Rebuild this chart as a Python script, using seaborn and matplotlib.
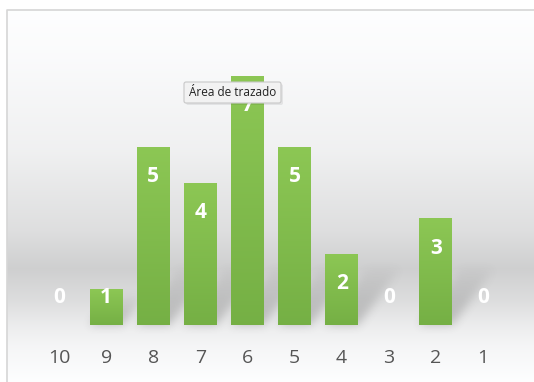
import numpy as np
import pandas as pd
import matplotlib.pyplot as plt
import seaborn as sns
from matplotlib.patches import FancyBboxPatch

# Data
categories = ['10', '9', '8', '7', '6', '5', '4', '3', '2', '1']
values = [0, 1, 5, 4, 7, 5, 2, 0, 3, 0]

df = pd.DataFrame({'cat': categories, 'val': values})

sns.set_style('white')
plt.rcParams['font.family'] = ['Open Sans', 'DejaVu Sans']

W, H = 534, 382
fig = plt.figure(figsize=(W / 100, H / 100), dpi=100)

# Background: vertical grey gradient inside the chart frame
ax_bg = fig.add_axes([0, 0, 1, 1])
ax_bg.set_xlim(0, W)
ax_bg.set_ylim(H, 0)
ax_bg.axis('off')
stops_y = [10, 60, 150, 230, 268, 300, 325, 345, 382]
stops_c = [1.00, 0.985, 0.945, 0.875, 0.815, 0.87, 0.93, 0.965, 1.0]
rows = np.arange(10, H)
shade = np.interp(rows, stops_y, stops_c)
grad = np.stack([shade * 0.995, shade * 0.997, shade], axis=-1)[:, None, :]
grad = np.clip(np.repeat(grad, 2, axis=1), 0, 1)
ax_bg.imshow(grad, extent=[7, W, H, 10], aspect='auto', interpolation='bilinear')
ax_bg.plot([7, 7, W], [H, 10, 10], color='#d6d6d6', lw=1.2)

# Bars
ax = fig.add_axes([35.5 / W, (H - 325) / H, 471 / W, 285 / H])
ax.patch.set_alpha(0)
sns.barplot(data=df, x='cat', y='val', order=categories, color='#80bd4c',
            saturation=1, width=0.7, linewidth=0, ax=ax)
ax.set_ylim(0, 8)
ax.set_xlim(-0.5, 9.5)
for s in ax.spines.values():
    s.set_visible(False)
ax.set_yticks([])
ax.set_xlabel('')
ax.set_ylabel('')
ax.tick_params(axis='x', length=0, pad=17, labelsize=14, labelcolor='#555555')

# Soft diagonal shadows behind the bars (built in pixel space from the bar patches)
fig.canvas.draw()
yy, xx = np.mgrid[0:H, 0:W] + 0.5
yy = H - yy  # display coords, origin bottom-left
mask = np.zeros((H, W))
for p in ax.patches:
    if p.get_height() <= 0:
        continue
    (x0, y0), (x1, y1) = ax.transData.transform(
        [(p.get_x(), 0), (p.get_x() + p.get_width(), p.get_height())])
    sy = min(0.85 * (y1 - y0), 58)
    sx = sy / 1.35
    t = (yy - y0) / sy
    inside = (t >= 0) & (t <= 1) & (xx >= x0 + t * sx) & (xx <= x1 + t * sx)
    mask = np.maximum(mask, np.where(inside, (1 - t) ** 0.7, 0))
k = np.ones(9) / 9
for _ in range(3):
    mask = np.apply_along_axis(lambda r: np.convolve(r, k, mode='same'), 1, mask)
    mask = np.apply_along_axis(lambda c: np.convolve(c, k, mode='same'), 0, mask)
shadow = np.zeros((H, W, 4))
shadow[..., :3] = 0.25
shadow[..., 3] = mask * 0.28
ax_bg.imshow(shadow, extent=[0, W, H, 0], aspect='auto', zorder=2)
ax_bg.set_xlim(0, W)
ax_bg.set_ylim(H, 0)

# Vertical green gradient fill for each bar
bar_grad = np.stack([np.linspace(0.55, 0.46, 64), np.linspace(0.78, 0.69, 64),
                     np.linspace(0.33, 0.27, 64)], axis=-1)[:, None, :]
for p in ax.patches:
    if p.get_height() <= 0:
        continue
    im = ax.imshow(bar_grad, extent=[p.get_x(), p.get_x() + p.get_width(), 0, p.get_height()],
                   aspect='auto', zorder=p.get_zorder(), interpolation='bilinear')
    im.set_clip_path(p)
    p.set_facecolor('none')
ax.set_ylim(0, 8)
ax.set_xlim(-0.5, 9.5)

# Value labels inside bar ends
for i, v in enumerate(values):
    ax.text(i, max(v - 0.84, 0.76), str(v), ha='center', va='center',
            color='white', fontsize=15, fontweight='bold', zorder=5)

# Tooltip overlay
ax_tip = fig.add_axes([0, 0, 1, 1])
ax_tip.set_xlim(0, W)
ax_tip.set_ylim(H, 0)
ax_tip.axis('off')
ax_tip.add_patch(FancyBboxPatch((186, 84), 97, 21, boxstyle='round,pad=0,rounding_size=2',
                                facecolor='#000000', alpha=0.07, lw=0))
ax_tip.add_patch(FancyBboxPatch((184, 82), 97, 21, boxstyle='round,pad=0,rounding_size=2',
                                facecolor='#f2f2f2', edgecolor='#c8c8c8', lw=0.8))
ax_tip.text(232.5, 92.5, 'Área de trazado', ha='center', va='center',
            fontsize=8.5, color='#222222')

plt.savefig('out.png', dpi=100)
